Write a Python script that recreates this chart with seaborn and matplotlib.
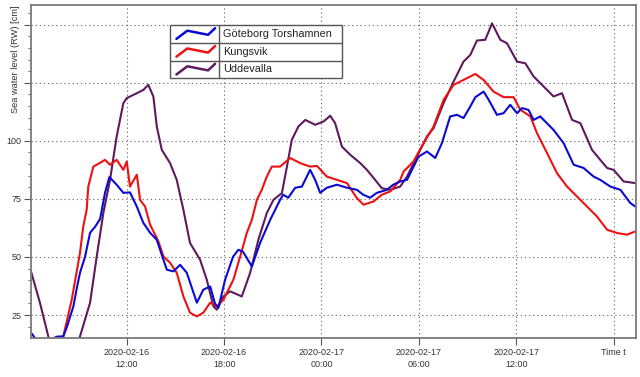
import pandas as pd
import numpy as np
import matplotlib
matplotlib.use("Agg")
import matplotlib.pyplot as plt
from matplotlib.ticker import MultipleLocator
import seaborn as sns

# hours after 2020-02-16 00:00 and sea level in cm
gbg_hours = [6.10, 6.65, 7.70, 8.09, 8.32, 8.71, 8.94, 9.12, 9.43, 9.74, 10.05, 10.36, 10.66, 10.93,
             11.38, 11.79, 12.20, 12.62, 13.02, 13.44, 13.85, 14.26, 14.47, 14.87, 15.29, 15.70,
             16.32, 16.72, 17.14, 17.44, 17.65, 18.06, 18.55, 18.88, 19.17, 19.71, 20.22, 20.84,
             21.45, 21.64, 21.95, 22.38, 22.79, 23.30, 23.61, 23.92, 24.33, 24.95, 25.57, 26.18,
             26.57, 27.00, 27.41, 28.03, 28.42, 28.85, 29.27, 29.98, 30.50, 31.01, 31.42, 31.93,
             32.35, 32.75, 33.17, 33.48, 33.99, 34.30, 34.81, 35.22, 35.63, 36.05, 36.36, 36.76,
             37.07, 37.48, 37.69, 38.30, 38.92, 39.54, 40.15, 40.77, 41.18, 41.80, 42.42, 43.03, 43.34]
gbg_level = [17.4, 12.2, 15.7, 15.8, 20.0, 28.7, 37.2, 43.2, 50.1, 60.4, 63.0, 66.4, 77.6, 84.4,
             81.1, 77.6, 77.8, 71.7, 64.7, 60.4, 57.4, 48.8, 44.5, 43.8, 46.6, 43.2,
             30.3, 35.9, 37.3, 29.9, 28.1, 40.2, 50.1, 53.1, 52.2, 45.9, 56.1, 66.0,
             74.6, 76.8, 75.5, 79.8, 80.3, 87.5, 83.2, 77.6, 79.8, 81.1, 79.8, 78.9,
             76.8, 75.5, 77.6, 78.9, 81.1, 82.5, 83.2, 93.2, 95.4, 92.6, 99.0, 110.5,
             111.2, 109.8, 114.8, 118.8, 121.2, 117.7, 111.2, 111.9, 115.5, 111.9, 114.1, 113.3,
             109.0, 110.5, 109.0, 104.7, 99.0, 89.7, 88.3, 84.6, 83.2, 80.3, 78.9, 73.2, 71.7]

kungsvik_hours = [7.89, 8.09, 8.61, 9.12, 9.32, 9.53, 9.63, 9.94, 10.35, 10.66, 10.97, 11.38, 11.79,
                  12.00, 12.20, 12.62, 12.82, 13.13, 13.44, 13.95, 14.26, 14.67, 15.08, 15.49, 15.90,
                  16.32, 16.72, 17.14, 17.55, 17.96, 18.17, 18.57, 18.99, 19.40, 19.71, 20.02, 20.32,
                  20.63, 20.94, 21.45, 22.07, 22.69, 23.30, 23.72, 24.33, 24.95, 25.57, 26.18, 26.59,
                  27.21, 27.72, 28.24, 28.85, 29.06, 29.67, 30.29, 30.91, 31.52, 32.14, 32.75, 33.48,
                  33.99, 34.60, 35.22, 35.84, 36.25, 36.87, 37.28, 37.90, 38.51, 39.13, 39.75, 40.36,
                  40.98, 41.60, 42.21, 42.83, 43.34]
kungsvik_level = [12.2, 15.8, 31.6, 51.8, 63.1, 70.3, 80.3, 88.9, 90.5, 91.8, 89.7, 91.8, 87.5,
                  91.1, 80.3, 85.4, 74.6, 71.7, 63.9, 56.7, 50.2, 47.5, 43.2, 33.0, 26.0,
                  24.4, 26.0, 30.3, 28.7, 31.6, 34.6, 40.2, 50.2, 60.4, 66.0, 74.6, 78.9,
                  84.6, 88.9, 88.9, 92.6, 90.4, 88.9, 89.2, 84.6, 83.2, 81.8, 75.3, 72.5,
                  73.9, 76.8, 78.2, 83.2, 86.8, 91.1, 99.0, 106.2, 117.6, 124.1, 126.2, 128.8,
                  126.2, 121.2, 118.8, 118.8, 113.4, 110.5, 103.3, 94.7, 86.1, 80.3, 76.0, 71.7,
                  67.4, 61.7, 60.3, 59.6, 61.0]

udd_hours = [6.10, 6.65, 7.17, 7.39, 8.81, 9.12, 9.74, 10.15, 10.56, 10.97, 11.38, 11.79, 12.00,
             12.62, 13.02, 13.33, 13.64, 13.85, 14.16, 14.67, 15.08, 15.49, 15.90, 16.52, 16.93,
             17.34, 17.55, 17.96, 18.37, 19.09, 19.60, 20.11, 20.63, 21.04, 21.56, 21.87, 22.17,
             22.58, 23.00, 23.61, 24.12, 24.54, 24.84, 25.26, 25.77, 26.39, 26.80, 27.21, 27.72,
             28.24, 28.85, 29.27, 29.88, 30.50, 30.91, 31.52, 32.14, 32.75, 33.17, 33.58, 34.09,
             34.51, 35.02, 35.43, 36.05, 36.56, 37.07, 37.69, 38.30, 38.82, 39.44, 39.95, 40.67,
             41.18, 41.60, 42.00, 42.62, 43.34]
udd_level = [43.8, 30.3, 15.7, 10.1, 10.1, 15.8, 30.3, 50.2, 69.0, 83.2, 101.9, 116.2, 118.4,
             120.5, 121.9, 124.1, 119.1, 106.2, 96.1, 90.4, 83.2, 70.3, 56.0, 48.8, 40.2,
             28.7, 27.3, 33.0, 35.2, 33.0, 43.1, 57.4, 68.9, 74.6, 77.5, 88.9, 100.4,
             106.2, 109.0, 106.9, 108.3, 110.8, 107.6, 97.5, 94.0, 90.4, 87.5, 84.0, 79.6,
             78.9, 80.3, 84.6, 93.2, 101.9, 105.5, 116.2, 125.5, 134.1, 137.0, 143.2, 143.5,
             150.6, 143.5, 142.0, 134.1, 133.4, 127.7, 123.4, 119.1, 120.5, 109.0, 107.6, 96.1,
             91.8, 88.3, 87.5, 82.5, 81.8]

series_names = ["Göteborg Torshamnen", "Kungsvik", "Uddevalla"]
series_colors = ["#0a0ad2", "#ee1111", "#5e1a5e"]

tick_times = ["2020-02-16 12:00", "2020-02-16 18:00", "2020-02-17 00:00",
              "2020-02-17 06:00", "2020-02-17 12:00", "2020-02-17 18:00"]
tick_labels = ["2020-02-16\n12:00", "2020-02-16\n18:00", "2020-02-17\n00:00",
               "2020-02-17\n06:00", "2020-02-17\n12:00", "Time t"]

base = pd.Timestamp("2020-02-16 00:00")


def to_frame(hours, level, name):
    return pd.DataFrame({"time": base + pd.to_timedelta(hours, unit="h"),
                         "level": level, "station": name})


df = pd.concat([to_frame(gbg_hours, gbg_level, series_names[0]),
                to_frame(kungsvik_hours, kungsvik_level, series_names[1]),
                to_frame(udd_hours, udd_level, series_names[2])], ignore_index=True)

sns.set_style("white")
plt.rcParams["font.family"] = ["Liberation Sans", "DejaVu Sans"]

fig = plt.figure(figsize=(6.4, 3.77), dpi=100)
ax = fig.add_axes([31 / 640, 1 - 338 / 377, 605 / 640, 333.5 / 377])

# draw back to front: purple, red, blue
for name, color in zip(series_names[::-1], series_colors[::-1]):
    sub = df[df.station == name]
    sns.lineplot(data=sub, x="time", y="level", color=color, lw=1.5, ax=ax,
                 estimator=None, sort=False, legend=False)

ax.set_xlim(base + pd.Timedelta(hours=6.10), base + pd.Timedelta(hours=43.38))
ax.set_ylim(15.1, 158.7)

ax.set_xticks(pd.to_datetime(tick_times))
ax.set_xticklabels(tick_labels, fontsize=6.5, color="#333333", linespacing=1.5)
ax.set_yticks([25, 50, 75, 100, 125, 150])
ax.set_yticklabels(["25", "50", "75", "100", "", ""], fontsize=6.5, color="#333333")
ax.yaxis.set_minor_locator(MultipleLocator(5))
ax.tick_params(axis="both", which="major", direction="out", length=5, width=0.8,
               color="#555555", pad=2, left=True, bottom=True)
ax.tick_params(axis="y", which="minor", direction="out", length=2.5, width=0.6,
               color="#555555", left=True)

ax.grid(True, which="major", linestyle=(0, (1.2, 2.5)), color="#777777", lw=0.8)
for s in ax.spines.values():
    s.set_color("#7a7a7a")
    s.set_linewidth(1.3)

ax.set_xlabel("")
ax.set_ylabel("Sea water level (RW) [cm]", fontsize=6.7, color="#333333")
ax.yaxis.set_label_coords(-0.018, 0.835)

# table-style legend drawn in pixel coordinates of the figure
lx0, lx1, lsep = 169.5 / 640, 341.7 / 640, 219 / 640
ly_top, row_h = 1 - 25 / 377, 17.8 / 377
fig.patches.append(plt.Rectangle((lx0, ly_top - 3 * row_h), lx1 - lx0, 3 * row_h,
                                 transform=fig.transFigure, facecolor="white",
                                 edgecolor="#555555", lw=1.0, zorder=5))
fig.lines.append(plt.Line2D([lsep, lsep], [ly_top, ly_top - 3 * row_h],
                            transform=fig.transFigure, color="#555555", lw=1.0, zorder=6))
zig_x = np.array([0.14, 0.36, 0.78, 0.92])
zig_y = np.array([0.22, 0.68, 0.45, 0.82])
for i, (name, color) in enumerate(zip(series_names, series_colors)):
    r_top = ly_top - i * row_h
    if i > 0:
        fig.lines.append(plt.Line2D([lx0, lx1], [r_top, r_top], transform=fig.transFigure,
                                    color="#555555", lw=1.0, zorder=6))
    fig.lines.append(plt.Line2D(lx0 + zig_x * (lsep - lx0), r_top - row_h + zig_y * row_h,
                                transform=fig.transFigure, color=color, lw=1.8, zorder=7))
    fig.text(lsep + 4 / 640, r_top - row_h / 2, name, fontsize=7.8, color="#222222",
             va="center", ha="left", zorder=7)

fig.savefig("out.png", dpi=100)
